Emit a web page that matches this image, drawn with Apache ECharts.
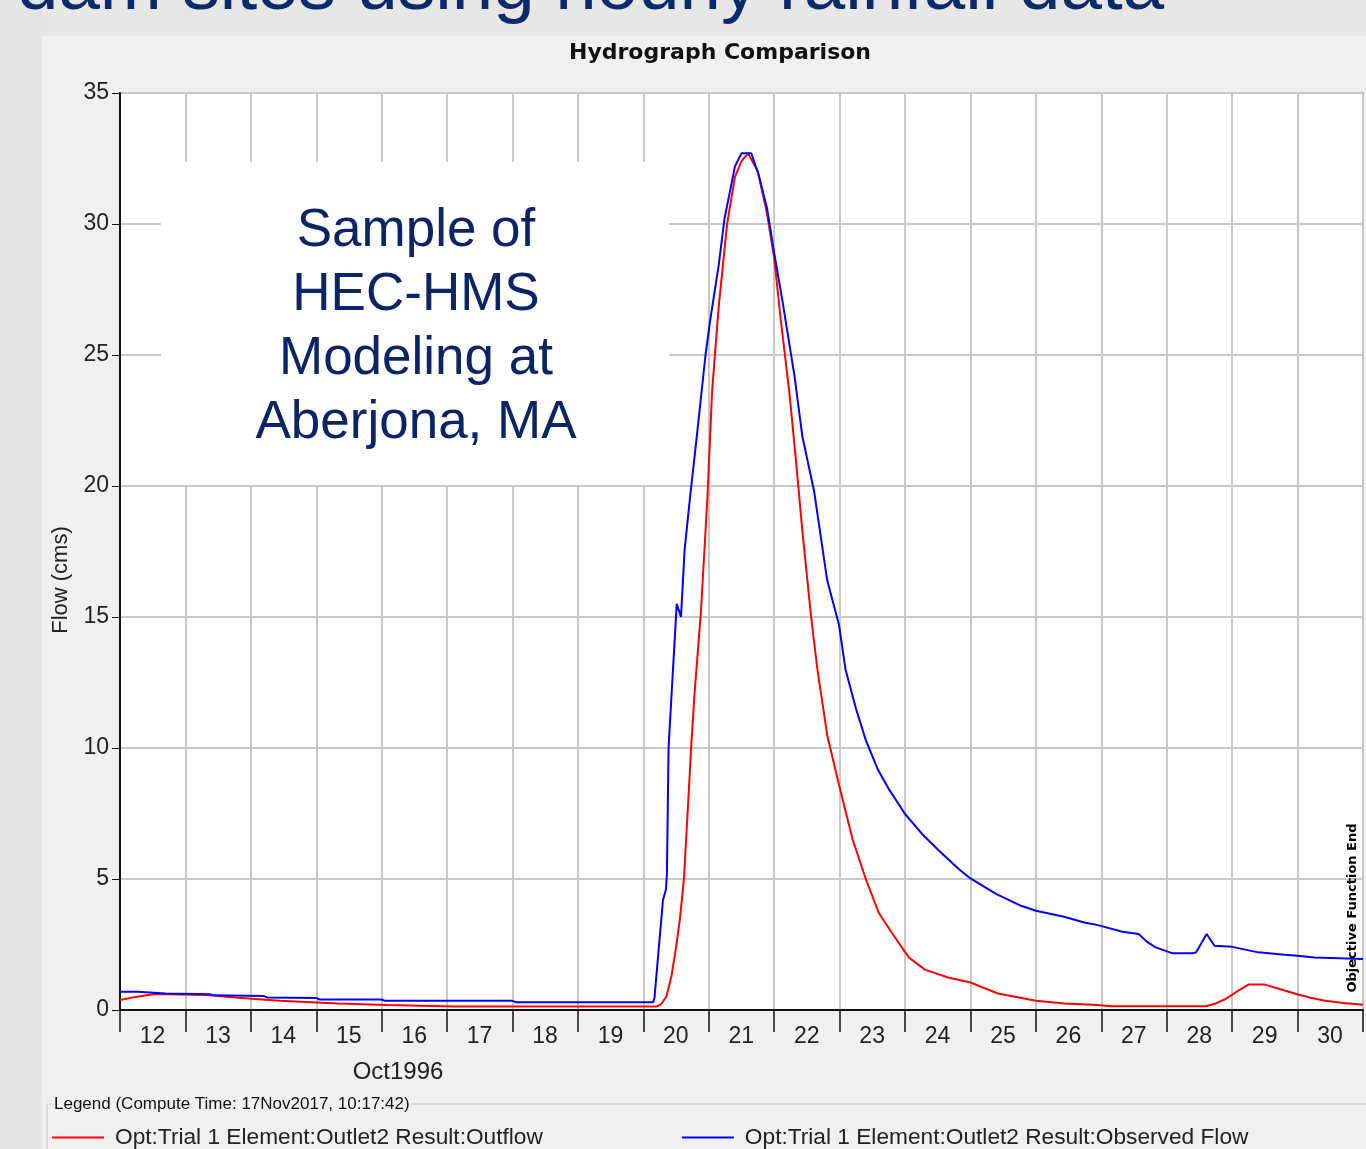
<!DOCTYPE html>
<html>
<head>
<meta charset="utf-8">
<title>Hydrograph Comparison</title>
<script src="https://cdn.jsdelivr.net/npm/echarts@6.0.0/dist/echarts.min.js"></script>
<style>
  html,body{margin:0;padding:0;background:#e7e7e7;}
  #chart{width:1366px;height:1149px;}
</style>
</head>
<body>
<div id="chart"></div>
<script>
  // 横轴: 1996年10月的日期(小数表示一天中的时刻)
  var dayLabels=['12','13','14','15','16','17','18','19','20','21','22','23','24','25','26','27','28','29','30'];
  var yTicks=[0,5,10,15,20,25,30,35];

  // 模拟出流 (红线)
  var outflowDay=[12.0,12.26,12.53,13.32,13.76,14.44,15.33,16.08,17.11,20.2,20.27,20.35,20.43,20.50,20.56,20.62,20.70,20.73,20.78,20.88,
    20.98,21.05,21.15,21.28,21.40,21.50,21.60,21.75,21.89,22.0,22.10,22.23,22.33,22.43,22.56,22.66,22.81,22.99,23.20,23.40,
    23.60,23.81,24.06,24.31,24.66,25.0,25.42,26.0,26.43,26.95,27.15,28.6,28.75,28.9,29.1,29.25,29.5,29.7,29.98,30.2,
    30.42,30.7,31.0];
  var outflowFlow=[0.38,0.51,0.61,0.57,0.48,0.35,0.25,0.19,0.13,0.13,0.22,0.5,1.3,2.4,3.5,5.0,8.6,10.0,12.0,15.2,
    19.6,23.6,26.8,30.0,31.8,32.4,32.7,32.0,30.4,28.7,26.35,23.6,21.05,18.3,15.1,13.0,10.5,8.6,6.5,5.0,
    3.7,2.9,2.0,1.53,1.24,1.05,0.63,0.35,0.25,0.19,0.14,0.14,0.25,0.42,0.75,0.97,0.97,0.82,0.61,0.47,
    0.35,0.27,0.2];

  // 实测流量 (蓝线)
  var observedDay=[12.0,12.27,12.3,12.7,13.38,13.42,14.2,14.25,15.0,15.05,16.0,16.05,18.0,18.05,20.15,20.17,20.30,20.345,20.36,20.385,
    20.43,20.51,20.54,20.575,20.63,20.70,20.83,20.95,21.02,21.15,21.24,21.40,21.50,21.65,21.76,21.89,22.0,22.13,22.31,22.43,
    22.61,22.81,22.99,23.09,23.25,23.40,23.58,23.76,24.0,24.26,24.52,24.82,25.0,25.39,25.75,26.0,26.43,26.74,26.95,27.32,
    27.57,27.7,27.83,28.08,28.39,28.45,28.61,28.73,29.0,29.4,29.8,30.0,30.26,31.0];
  var observedFlow=[0.70,0.70,0.63,0.63,0.60,0.56,0.53,0.48,0.46,0.40,0.40,0.35,0.35,0.30,0.30,0.46,4.2,4.6,5.2,10.0,
    12.0,15.5,15.5,15.0,17.55,19.25,22.2,25.0,26.3,28.4,30.2,32.2,32.7,32.7,31.9,30.6,28.9,27.0,24.2,21.9,
    19.8,16.4,14.7,13.0,11.5,10.3,9.2,8.4,7.48,6.72,6.08,5.38,5.02,4.43,4.0,3.79,3.56,3.34,3.24,2.99,
    2.9,2.6,2.39,2.17,2.17,2.2,2.9,2.45,2.41,2.2,2.11,2.07,2.0,1.95];

  var seriesNames=['Opt:Trial 1 Element:Outlet2 Result:Outflow','Opt:Trial 1 Element:Outlet2 Result:Observed Flow'];
  var noteLines=['Sample of','HEC-HMS','Modeling at','Aberjona, MA'];

  var pairUp=function(xs,ys){
    var data=[];
    xs.forEach(function(x,i){
      data.push([x,ys[i]]);
    })
    return data;
  }

  var font='"Liberation Sans", Arial, sans-serif';
  var chart=echarts.init(document.getElementById('chart'),null,{renderer:'canvas'});

  // 说明文字框
  var noteGraphics=noteLines.map(function(line,i){
    return {
      type:'text',z:51,
      style:{text:line,x:416,y:231+i*64,align:'center',verticalAlign:'middle',
        font:'53px '+font,fill:'#0b2466'}
    };
  });

  chart.setOption({
    backgroundColor:'#e7e7e7',
    animation:false,
    title:{
      text:'Hydrograph Comparison',
      left:720,top:42,padding:0,textAlign:'center',
      textStyle:{fontFamily:'"DejaVu Sans", sans-serif',fontWeight:'bold',fontSize:22,color:'#111'}
    },
    grid:{
      left:120,right:1,top:93,bottom:139,
      show:true,backgroundColor:'#ffffff',borderColor:'#333',borderWidth:1.5
    },
    legend:{
      left:52,top:1126,padding:0,
      icon:'rect',itemWidth:52,itemHeight:2,itemGap:139,
      selectedMode:false,
      data:seriesNames,
      textStyle:{fontFamily:font,fontSize:22.7,color:'#222',padding:[0,0,0,6]}
    },
    xAxis:{
      type:'value',min:12,max:31,interval:1,
      axisLine:{lineStyle:{color:'#111',width:2}},
      axisTick:{length:22,lineStyle:{color:'#111',width:1.5}},
      axisLabel:{
        fontFamily:font,fontSize:23,color:'#222',margin:15,
        padding:[0,0,0,65],
        formatter:function(v){
          return dayLabels[v-12]||'';
        }
      },
      splitLine:{show:true,lineStyle:{color:'#c8c8c8',width:2}}
    },
    yAxis:{
      type:'value',min:0,max:35,interval:5,
      axisLine:{show:true,lineStyle:{color:'#111',width:2}},
      axisTick:{show:true,length:8,lineStyle:{color:'#111'}},
      axisLabel:{
        fontFamily:font,fontSize:23,color:'#222',margin:11,
        formatter:function(v){
          return yTicks.indexOf(v)>=0?String(v):'';
        }
      },
      splitLine:{show:true,lineStyle:{color:'#c8c8c8',width:2}}
    },
    series:[
      {
        name:seriesNames[0],type:'line',
        data:pairUp(outflowDay,outflowFlow),
        showSymbol:false,
        lineStyle:{color:'#ff0000',width:2},
        itemStyle:{color:'#ff0000'}
      },
      {
        name:seriesNames[1],type:'line',
        data:pairUp(observedDay,observedFlow),
        showSymbol:false,
        lineStyle:{color:'#0000ff',width:2},
        itemStyle:{color:'#0000ff'}
      }
    ],
    graphic:[
      // 左侧幻灯片边条
      {type:'rect',z:-20,shape:{x:0,y:0,width:42,height:1149},style:{fill:'#e2e6e6'}},
      // 图表面板
      {type:'rect',z:-10,shape:{x:42,y:36,width:1324,height:1113},style:{fill:'#f0f0f0'}},
      // 幻灯片标题(只露出下半部分)
      {type:'text',z:-5,style:{text:'dam sites using hourly rainfall data',x:17,y:-12,
        verticalAlign:'middle',font:'74.5px '+font,fill:'#0b2a6b'}},
      // 说明框
      {type:'rect',z:50,shape:{x:161,y:162,width:508,height:323},style:{fill:'#ffffff'}},
      // 纵轴名称
      {type:'text',z:5,rotation:Math.PI/2,x:61,y:580,style:{text:'Flow (cms)',x:0,y:0,
        align:'center',verticalAlign:'middle',font:'22px '+font,fill:'#222'}},
      // 图例外框
      {type:'line',z:-5,shape:{x1:47,y1:1104,x2:1366,y2:1104},style:{stroke:'#d4d4d4',lineWidth:1.5}},
      {type:'line',z:-5,shape:{x1:47,y1:1104,x2:47,y2:1149},style:{stroke:'#d4d4d4',lineWidth:1.5}},
      {type:'text',z:-4,style:{text:'Legend (Compute Time: 17Nov2017, 10:17:42)',x:52,y:1104,
        verticalAlign:'middle',font:'17px '+font,fill:'#111',backgroundColor:'#f0f0f0',padding:[0,2]}},
      // 日期标签
      {type:'text',z:5,style:{text:'Oct1996',x:398,y:1072,align:'center',verticalAlign:'middle',
        font:'24px '+font,fill:'#222'}},
      // 目标函数结束标记
      {type:'text',z:20,rotation:Math.PI/2,x:1353,y:908,style:{text:'Objective Function End',x:0,y:0,
        align:'center',verticalAlign:'middle',font:'bold 13px "DejaVu Sans", sans-serif',fill:'#000'}}
    ].concat(noteGraphics)
  });
</script>
</body>
</html>
